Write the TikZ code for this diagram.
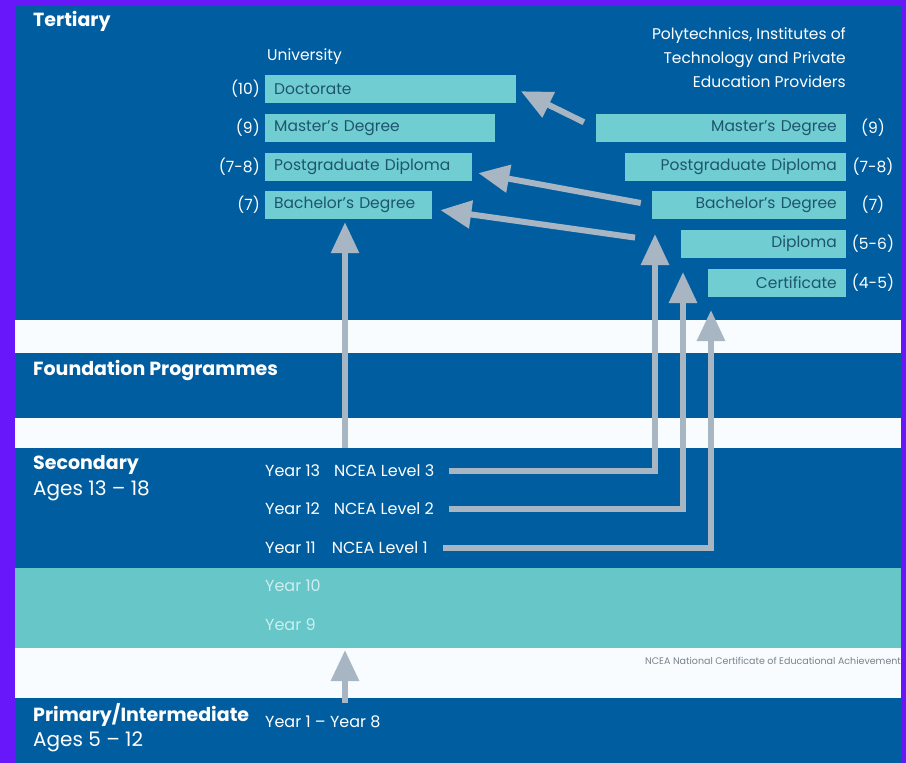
\documentclass[tikz,border=0pt]{standalone}
\usepackage{fontspec}
\setmainfont{Poppins}
\usetikzlibrary{arrows.meta,positioning}
\definecolor{frame}{RGB}{104,22,250}
\definecolor{navy}{RGB}{0,94,160}
\definecolor{band}{RGB}{248,252,255}
\definecolor{lagoon}{RGB}{102,198,200}
\definecolor{boxfill}{RGB}{112,205,210}
\definecolor{boxtext}{RGB}{30,85,110}
\definecolor{pipe}{RGB}{168,182,196}
\definecolor{fine}{RGB}{120,130,140}
\definecolor{faint}{RGB}{205,238,240}

\begin{document}
\begin{tikzpicture}[x=1pt, y=-1pt,
		qual/.style={fill=boxfill, text=boxtext, font=\fontsize{15.5}{17}\selectfont, minimum height=28pt, inner xsep=9pt, inner ysep=0pt},
		uni/.style={qual, anchor=west, align=left},
		poly/.style={qual, anchor=east, align=right},
		lvl/.style={text=white, font=\fontsize{15.5}{17}\selectfont, inner sep=0pt},
		head/.style={text=white, font=\bfseries\fontsize{19}{22}\selectfont, anchor=west, inner sep=0pt},
		sub/.style={text=white, font=\fontsize{20}{22}\selectfont, anchor=west, inner sep=0pt},
		yr/.style={text=white, font=\fontsize{16}{18}\selectfont, anchor=west, inner sep=0pt},
		route/.style={draw=pipe, line width=6pt, -{Triangle[width=27pt,length=31pt]}}]
		\useasboundingbox (0,0) rectangle (906,763);
		\fill[frame] (0,0) rectangle (906,763);
		\fill[navy] (15,6) rectangle (901,763);
		\fill[band] (15,320) rectangle (901,353);
		\fill[band] (15,418) rectangle (901,448);
		\fill[lagoon] (15,568) rectangle (901,648);
		\fill[band] (15,648) rectangle (901,698);
		
		\node[head] (tert) at (33,21) {Tertiary};
		\node[head] (found) at (33,370) {Foundation Programmes};
		\node[head] (sec) at (33,465) {Secondary};
		\node[sub] (secage) at (33,491) {Ages 13 – 18};
		\node[head] (prim) at (33,715) {Primary/Intermediate};
		\node[sub] (primage) at (33,742) {Ages 5 – 12};
		
		\node[lvl, anchor=west] (unihd) at (267,57) {University};
		\node[uni, text width=233pt] (udoc) at (265,89) {Doctorate};
		\node[uni, text width=212pt] (umas) at (265,128) {Master's Degree};
		\node[uni, text width=189pt] (upgd) at (265,167) {Postgraduate Diploma};
		\node[uni, text width=149pt] (ubach) at (265,205) {Bachelor's Degree};
		\node[lvl, left=5pt of udoc] (udocl) {(10)};
		\node[lvl, left=5pt of umas] (umasl) {(9)};
		\node[lvl, left=5pt of upgd] (upgdl) {(7-8)};
		\node[lvl, left=5pt of ubach] (ubachl) {(7)};
		
		\node[lvl, align=right, anchor=north east, font=\fontsize{15.5}{24}\selectfont] (polyhd) at (846,27) {Polytechnics, Institutes of\\Technology and Private\\Education Providers};
		\node[poly, text width=232pt] (pmas) at (846,128) {Master's Degree};
		\node[poly, text width=203pt] (ppgd) at (846,167) {Postgraduate Diploma};
		\node[poly, text width=176pt] (pbach) at (846,205) {Bachelor's Degree};
		\node[poly, text width=147pt] (pdip) at (846,244) {Diploma};
		\node[poly, text width=120pt] (pcert) at (846,283) {Certificate};
		\node[lvl] (pmasl) at ([xshift=27pt]pmas.east) {(9)};
		\node[lvl] (ppgdl) at ([xshift=27pt]ppgd.east) {(7-8)};
		\node[lvl] (pbachl) at ([xshift=27pt]pbach.east) {(7)};
		\node[lvl] (pdipl) at ([xshift=27pt]pdip.east) {(5-6)};
		\node[lvl] (pcertl) at ([xshift=27pt]pcert.east) {(4-5)};
		
		\node[yr] (y13) at (265,471) {Year 13\hspace{14pt}NCEA Level 3};
		\node[yr] (y12) at (265,509) {Year 12\hspace{14pt}NCEA Level 2};
		\node[yr] (y11) at (265,548) {Year 11\hspace{16pt}NCEA Level 1};
		\node[yr, text=faint] (y10) at (265,586) {Year 10};
		\node[yr, text=faint] (y9) at (265,625) {Year 9};
		\node[yr] (y18) at (265,722) {Year 1 – Year 8};
		\node[anchor=west, inner sep=0pt, text=fine, font=\fontsize{9.5}{10}\selectfont] (ncea) at (645,661) {NCEA National Certificate of Educational Achievement};
		
		\coordinate (t3) at (655,234);
		\coordinate (t2) at (683,272);
		\coordinate (t1) at (711,310);
		\coordinate (secup) at (345,448);
		\coordinate (primup) at (345,703);
		\coordinate (teal) at (345,650);
		
		\draw[route, shorten >=3pt] (secup) -- (secup |- ubach.south);
		\draw[route] ([xshift=15pt]y13.east) -| (t3);
		\draw[route] ([xshift=15pt]y12.east) -| (t2);
		\draw[route] ([xshift=15pt]y11.east) -| (t1);
		\draw[route] (primup) -- (teal);
		\draw[route, shorten <=13pt, shorten >=5pt] (pmas.west) -- (udoc.east);
		\draw[route, shorten <=11pt, shorten >=6pt] (pbach.west) -- ([yshift=-5pt]upgd.east);
		\draw[route, shorten <=46pt, shorten >=8pt] (pdip.west) -- ([yshift=-4pt]ubach.east);
		
		\fill[frame] (901,0) rectangle (906,763);
	\end{tikzpicture}
\end{document}
